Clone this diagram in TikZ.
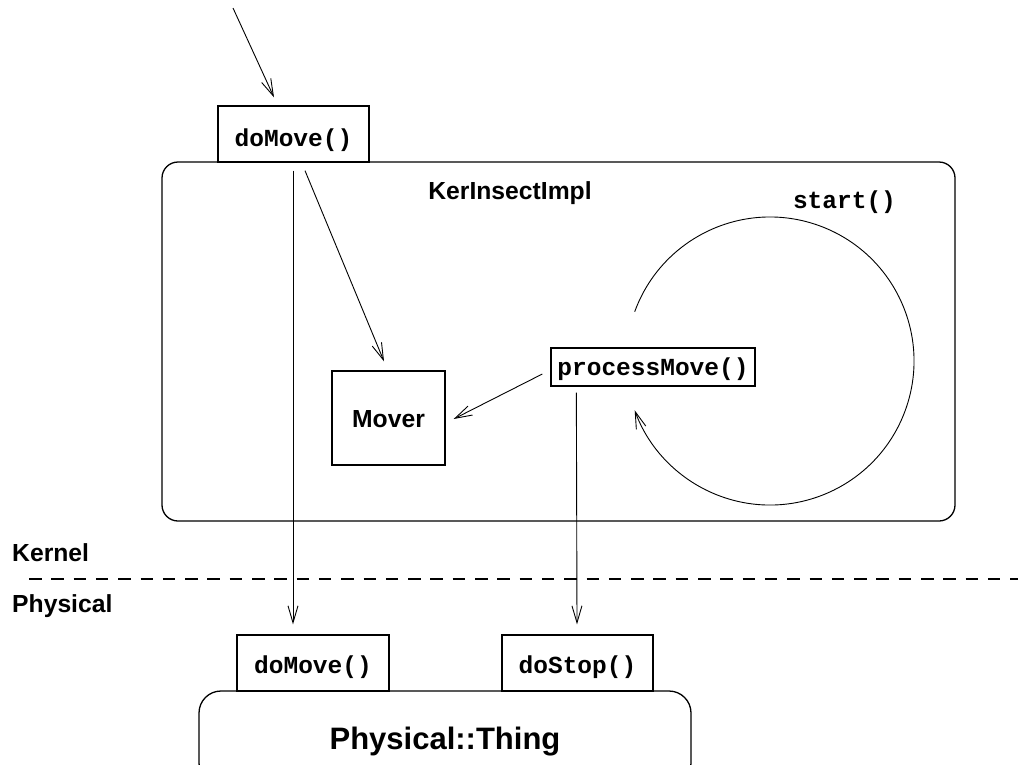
\documentclass[tikz,border=0pt]{standalone}
\usepackage{fontspec}
\setmainfont{Liberation Sans}
\newfontfamily\codefont{Liberation Mono}
\usetikzlibrary{arrows.meta}

\tikzset{
  sanslbl/.style={font=\fontsize{24.7}{29}\selectfont\bfseries},
  codelbl/.style={font=\fontsize{24.5}{29}\codefont\bfseries},
  method/.style={draw, line width=1.3pt, inner sep=0pt, codelbl, text depth=0pt},
  layerbox/.style={draw, line width=1.3pt, rounded corners=16pt},
  call/.style={line width=0.9pt, -{Straight Barb[length=17pt, width=10pt, line width=0.9pt]}},
  divider/.style={line width=2.5pt, dash pattern=on 12.5pt off 9.8pt},
}

\begin{document}
\begin{tikzpicture}[x=1pt, y=1pt]
  \useasboundingbox (0,0) rectangle (1018,-764);
  \clip (0,0) rectangle (1018,-764);

  % kernel-side implementation
  \node[layerbox, minimum width=793pt, minimum height=359pt] (impl) at (558.5,-341.5) {};
  \node[sanslbl, anchor=base] (implname) at (510,-199) {KerInsectImpl};

  \node[method, fill=white, minimum width=151pt, minimum height=56pt, text height=24pt] (topmove) at (293.5,-134) {doMove()};
  \node[method, minimum width=204pt, minimum height=38pt, text height=16pt] (pm) at (653,-367) {processMove()};
  \node[draw, line width=1.3pt, sanslbl, minimum width=113pt, minimum height=94pt, inner sep=0pt, text height=18pt, text depth=0pt] (mover) at (388.5,-418) {Mover};

  % loop driven by start()
  \coordinate (loopc) at (770,-361);
  \node[codelbl, anchor=base] (startlbl) at (844.5,-208) {start()};
  \draw[call] ([shift={(160:144)}]loopc) arc[start angle=160, end angle=-160, radius=144pt];

  % layer boundary
  \coordinate (divL) at (29,-579);
  \coordinate (divR) at (1018,-579);
  \draw[divider] (divL) -- (divR);
  \node[sanslbl, anchor=base west, inner sep=0pt] (kernel) at (12,-561) {Kernel};
  \node[sanslbl, anchor=base west, inner sep=0pt] (physical) at (12,-612) {Physical};

  % physical thing and its methods
  \node[layerbox, rounded corners=22pt, minimum width=492pt, minimum height=94pt, inner sep=0pt,
        font=\fontsize{31}{36}\selectfont\bfseries, text height=22pt, text depth=0pt] (thing) at (445,-738) {Physical::Thing};
  \node[method, minimum width=152pt, minimum height=56pt, text height=20pt] (bmove) at (313,-663) {doMove()};
  \node[method, minimum width=151pt, minimum height=56pt, text height=20pt] (dostop) at (577.5,-663) {doStop()};

  % calls
  \coordinate (caller) at (233,-8);
  \draw[call] (caller) -- ([xshift=-19.5pt, yshift=8pt]topmove.north);
  \draw[call] ([xshift=11.5pt, yshift=-8pt]topmove.south) -- ([xshift=-4.5pt, yshift=9pt]mover.north);
  \draw[call] ([xshift=-0.5pt, yshift=-8pt]topmove.south) -- ([xshift=-20pt, yshift=10pt]bmove.north);
  \draw[call] ([xshift=-8pt, yshift=-7pt]pm.west) -- ([xshift=8pt, yshift=-1pt]mover.east);
  \draw[call] ([xshift=26pt, yshift=-6pt]pm.south west) -- ([xshift=-0.5pt, yshift=10pt]dostop.north);
\end{tikzpicture}
\end{document}
